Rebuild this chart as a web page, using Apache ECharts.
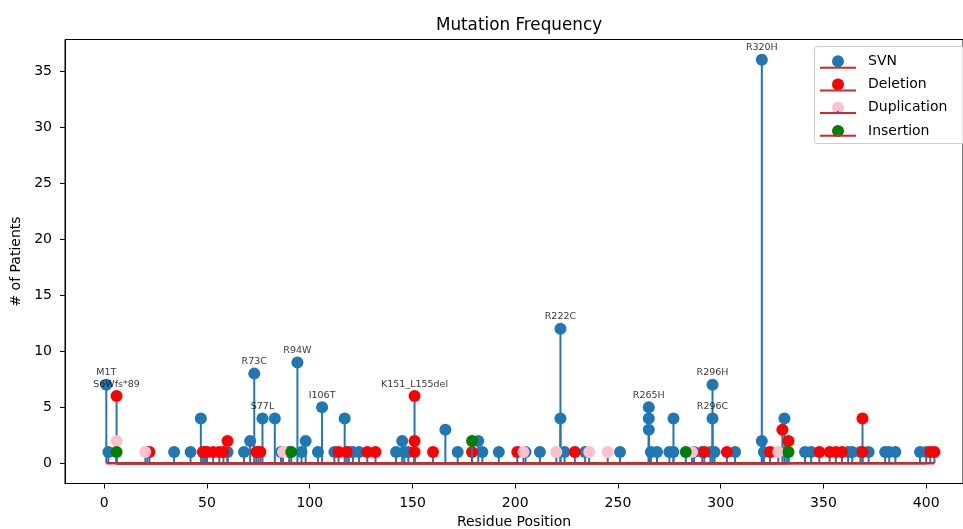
<!DOCTYPE html>
<html>
<head>
<meta charset="utf-8">
<script src="https://cdn.jsdelivr.net/npm/echarts@6/dist/echarts.min.js"></script>
<style>html,body{margin:0;padding:0;background:#fff}#c{width:963px;height:529px}</style>
</head>
<body>
<div id="c"></div>
<script>
const categories = ['SVN', 'Deletion', 'Duplication', 'Insertion'];
const markerColors = ['#1f77b4', '#ff0000', '#ffc0cb', '#008000'];

const svnX = [1,2,21,34,42,47,49,60,68,71,73,75,77,83,86,90,94,96,98,104,106,112,117,119,121,124,142,145,146,148,166,172,182,184,192,205,212,222,222,224,234,251,265,265,265,266,269,275,277,277,287,291,295,296,296,297,307,320,320,321,331,332,341,344,362,364,368,372,380,382,385,397,400];
const svnY = [7,1,1,1,1,4,1,1,1,2,8,1,4,4,1,1,9,1,2,1,5,1,4,1,1,1,1,2,1,1,3,1,2,1,1,1,1,12,4,1,1,1,5,4,3,1,1,1,4,1,1,1,1,7,4,1,1,36,2,1,4,1,1,1,1,1,1,1,1,1,1,1,1];

const delX = [6,22,48,50,53,56,58,60,74,76,114,118,128,132,151,151,151,160,179,201,229,292,303,324,330,333,348,353,356,359,369,369,402,404];
const delY = [6,1,1,1,1,1,1,2,1,1,1,1,1,1,6,2,1,1,1,1,1,1,1,1,3,2,1,1,1,1,4,1,1,1];

const dupX = [6,20,87,204,220,236,245,286,328];
const dupY = [2,1,1,1,1,1,1,1,1];

const insX = [6,91,179,283,333];
const insY = [1,1,2,1,1];

const labelNames = ['M1T','S6Wfs*89','R73C','S77L','R94W','I106T','K151_L155del','R222C','R265H','R296H','R296C','R320H'];
const labelX = [1,6,73,77,94,106,151,222,265,296,296,320];
const labelY = [7,6,8,4,9,5,6,12,5,7,4,36];

const xTicks = [0,50,100,150,200,250,300,350,400];
const yTicks = [0,5,10,15,20,25,30,35];

const groups = [[svnX,svnY],[delX,delY],[dupX,dupY],[insX,insY]];
const FONT = 'DejaVu Sans';

const series = [];
groups.forEach((g, i) => {
  const pts = g[0].map((x, k) => [x, g[1][k]]);
  series.push({
    type: 'custom', name: categories[i] + ' stems', silent: true, z: 2 + i * 3,
    renderItem: function (params, api) {
      const p0 = api.coord([api.value(0), 0]);
      const p1 = api.coord([api.value(0), api.value(1)]);
      return {type: 'line', shape: {x1: p0[0], y1: p0[1], x2: p1[0], y2: p1[1]},
        style: {stroke: '#1f77b4', lineWidth: 2}};
    },
    data: pts
  });
  series.push({
    type: 'scatter', name: categories[i], silent: true, z: 3 + i * 3,
    symbol: 'circle', symbolSize: 12,
    itemStyle: {color: markerColors[i], opacity: 1},
    data: pts
  });
  const mn = Math.min.apply(null, g[0]), mx = Math.max.apply(null, g[0]);
  series.push({
    type: 'custom', name: categories[i] + ' baseline', silent: true, z: 4 + i * 3,
    renderItem: function (params, api) {
      const p0 = api.coord([api.value(0), 0]);
      const p1 = api.coord([api.value(2), 0]);
      return {type: 'line', shape: {x1: p0[0], y1: p0[1], x2: p1[0], y2: p1[1]},
        style: {stroke: '#d62728', lineWidth: 2.5}};
    },
    data: [[mn, 0, mx]]
  });
});

series.push({
  type: 'scatter', name: 'labels', silent: true, z: 20,
  symbolSize: 0,
  data: labelX.map((x, k) => [x, labelY[k], labelNames[k]]),
  label: {show: true, position: 'top', distance: 7, color: '#000', fontFamily: FONT, fontSize: 9.5,
    formatter: p => p.data[2]}
});

const rowC = [60.7, 83.4, 106.1, 128.8];
const graphics = [{type: 'rect', z: 1, shape: {x: 814.5, y: 46.5, width: 170, height: 97, r: 3},
  style: {fill: 'rgba(255,255,255,0.8)', stroke: '#cccccc', lineWidth: 1}}];
rowC.forEach(c => {
  graphics.push({type: 'line', z: 100, shape: {x1: 820, y1: c + 7, x2: 856, y2: c + 7}, style: {stroke: '#d62728', lineWidth: 2}});
  graphics.push({type: 'line', z: 100, shape: {x1: 838, y1: c + 5, x2: 838, y2: c + 7}, style: {stroke: '#1f77b4', lineWidth: 2}});
});

const chart = echarts.init(document.getElementById('c'), null, {renderer: 'canvas'});
chart.setOption({
  animation: false,
  backgroundColor: '#fff',
  title: {text: 'Mutation Frequency', left: 514, top: 12, textAlign: 'center',
    textStyle: {fontFamily: FONT, fontSize: 16.8, fontWeight: 'normal', color: '#000'}},
  grid: {left: 65, top: 39.5, width: 898, height: 444, outerBoundsMode: 'none', show: true, borderColor: '#000', borderWidth: 1, backgroundColor: 'transparent'},
  legend: {
    data: categories, orient: 'vertical', left: 826, top: 47.2, icon: 'circle',
    itemWidth: 36, itemHeight: 12, itemGap: 9.3,
    padding: [7, 5, 7, 6], z: 50,
    formatter: name => '{s| }{a|' + name + '}',
    textStyle: {fontFamily: FONT, fontSize: 14, color: '#000', lineHeight: 14,
      rich: {s: {width: 7, fontSize: 14, lineHeight: 14}, a: {fontFamily: FONT, fontSize: 14, color: '#000', lineHeight: 14}}},
    selectedMode: false
  },
  graphic: graphics,
  xAxis: {
    type: 'value', min: -19.1, max: 417.9,
    name: 'Residue Position', nameLocation: 'middle', nameGap: 32,
    nameTextStyle: {fontFamily: FONT, fontSize: 14, color: '#000'},
    axisLine: {show: true, onZero: false, lineStyle: {color: '#000', width: 1}},
    axisTick: {show: true, length: 5, lineStyle: {color: '#000'}, customValues: xTicks},
    axisLabel: {fontFamily: FONT, fontSize: 14, color: '#000', margin: 13, customValues: xTicks},
    splitLine: {show: false}
  },
  yAxis: {
    type: 'value', min: -1.8, max: 37.8,
    name: '# of Patients', nameLocation: 'middle', nameGap: 37, nameRotate: 90,
    nameTextStyle: {fontFamily: FONT, fontSize: 14, color: '#000'},
    axisLine: {show: true, onZero: false, lineStyle: {color: '#000', width: 1}},
    axisTick: {show: true, length: 5, lineStyle: {color: '#000'}, customValues: yTicks},
    axisLabel: {fontFamily: FONT, fontSize: 14, color: '#000', margin: 13, customValues: yTicks},
    splitLine: {show: false}
  },
  series: series
});
</script>
</body>
</html>
